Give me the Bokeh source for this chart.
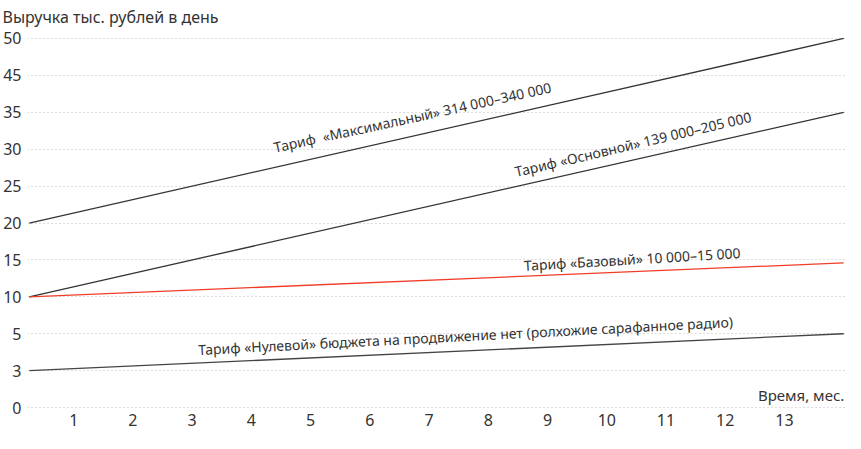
import numpy as np
from bokeh.plotting import figure
from bokeh.models import Range1d, FixedTicker
from bokeh.core.properties import value
from bokeh.embed import file_html
from bokeh.resources import INLINE

# ---- data ----
# y axis is ordinal: ticks are evenly spaced on the chart
y_tick_values = [0, 3, 5, 10, 15, 20, 25, 30, 35, 45, 50]
y_tick_labels = ["0", "3", "5", "10", "15", "20", "25", "30", "35", "45", "50"]
months = [1, 2, 3, 4, 5, 6, 7, 8, 9, 10, 11, 12, 13]
month_labels = [str(m) for m in months]

line_x = [0.25, 14.0]             # start / end, months
maximal_vals = [20, 50]           # Тариф «Максимальный»
main_vals = [10, 35]              # Тариф «Основной»
base_vals = [10, 14.6]            # Тариф «Базовый»
zero_vals = [3, 5]                # Тариф «Нулевой»

label_max = "Тариф\u00a0 «Максимальный» 314 000–340 000"
label_main = "Тариф «Основной» 139 000–205 000"
label_base = "Тариф «Базовый» 10 000–15 000"
label_zero = "Тариф «Нулевой» бюджета на продвижение нет (ролхожие сарафанное радио)"
title_text = "Выручка тыс. рублей в день"
x_title = "Время, мес."

positions = list(range(len(y_tick_values)))


def ypos(v):
    return list(np.interp(v, y_tick_values, positions))


FONT = "Noto Sans"
TXT = "#333333"

p = figure(width=845, height=433,
           x_range=Range1d(0.22, 14.03), y_range=Range1d(-0.16, 10.216),
           output_backend="svg", toolbar_location=None,
           min_border_left=25, min_border_right=0, min_border_top=22,
           min_border_bottom=20)
p.outline_line_color = None
p.background_fill_color = "white"
p.border_fill_color = "white"

p.title.text = title_text
p.title.align = "left"
p.title.offset = -25
p.title.standoff = 6
p.title.text_font = FONT
p.title.text_font_size = "16px"
p.title.text_font_style = "normal"
p.title.text_color = TXT

# axes
p.yaxis.ticker = FixedTicker(ticks=positions)
p.yaxis.major_label_overrides = {i: l for i, l in zip(positions, y_tick_labels)}
p.xaxis.ticker = FixedTicker(ticks=months)
p.xaxis.major_label_overrides = {m: l for m, l in zip(months, month_labels)}
for ax in (p.xaxis[0], p.yaxis[0]):
    ax.axis_line_color = None
    ax.major_tick_line_color = None
    ax.minor_tick_line_color = None
    ax.major_tick_out = 0
    ax.major_tick_in = 0
    ax.minor_tick_out = 0
    ax.minor_tick_in = 0
    ax.axis_label = None
    ax.axis_label_standoff = 0
    ax.major_label_text_font = FONT
    ax.major_label_text_font_size = "16px"
    ax.major_label_text_color = TXT
p.yaxis.major_label_standoff = 6
p.xaxis.major_label_standoff = 0

p.xgrid.grid_line_color = None
p.ygrid.grid_line_color = "#bbbbbb"
p.ygrid.grid_line_dash = "1 3"
p.ygrid.grid_line_width = 1

# lines
p.line(line_x, ypos(maximal_vals), line_color="#333333", line_width=1.3)
p.line(line_x, ypos(main_vals), line_color="#333333", line_width=1.3)
p.line(line_x, ypos(zero_vals), line_color="#444444", line_width=1.3)
p.line(line_x, ypos(base_vals), line_color="#f03c28", line_width=1.3)

# labels along the lines
common = dict(text_font=value(FONT), text_font_size="14px", text_color=TXT,
              text_align="left", text_baseline="alphabetic", angle_units="deg")
p.text(x=[4.38], y=[7.05], text=[label_max], angle=12.3, **common)
p.text(x=[8.45], y=[6.39], text=[label_main], angle=13.2, **common)
p.text(x=[8.60], y=[3.85], text=[label_base], angle=3.4, **common)
p.text(x=[3.10], y=[1.57], text=[label_zero], angle=3.0, **common)

p.text(x=[14.01], y=[0.35], text=[x_title], text_font=value(FONT),
       text_font_size="15px", text_color=TXT, text_align="right",
       text_baseline="alphabetic")

open("out.html", "w").write(file_html(p, INLINE))
